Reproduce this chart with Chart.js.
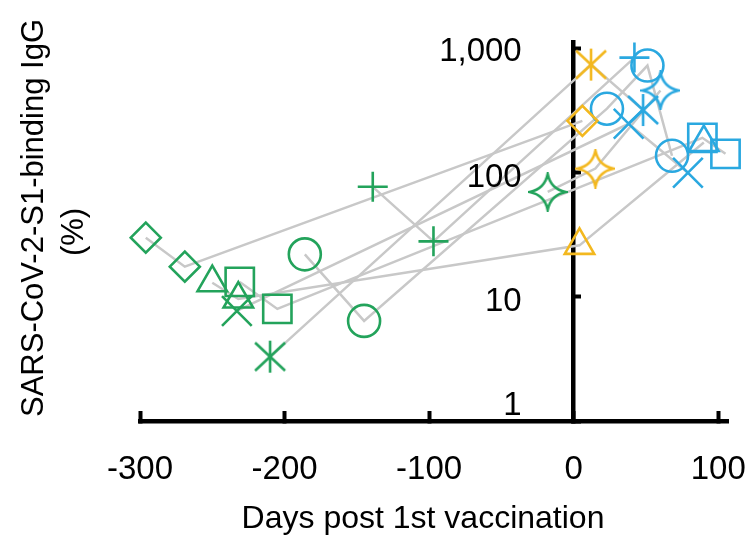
<!DOCTYPE html>
<html>
<head>
<meta charset="utf-8">
<script src="https://cdn.jsdelivr.net/npm/chart.js@4.4.0/dist/chart.umd.min.js"></script>
<style>
  html, body { margin: 0; padding: 0; background: #fff; }
  #wrap { width: 752px; height: 544px; }
</style>
</head>
<body>
<div id="wrap"><canvas id="chart"></canvas></div>
<script>
// Days post 1st vaccination and IgG (%) per patient
const diamondDays = [-296, -269, 6];
const diamondIgG = [30, 17.5, 262];

const triangleDays = [-250, -232, 4, 90];
const triangleIgG = [13, 9.6, 26, 175];

const squareDays = [-231, -205, 89, 105];
const squareIgG = [13.2, 8.0, 191, 142];

const circleDays = [-186, -145, 23, 51, 68];
const circleIgG = [22, 6.4, 328, 730, 137];

const plusDays = [-139, -97, 42];
const plusIgG = [77, 28, 846];

const starDays = [-18, 15, 60];
const starIgG = [70, 108, 460];

const asteriskDays = [-210, 12, 48];
const asteriskIgG = [3.3, 743, 320];

const crossDays = [-233, 38, 79];
const crossIgG = [7.7, 248, 100];

const xTicks = [-300, -200, -100, 0, 100];
const yTicks = [1, 10, 100, 1000];
const yTickLabels = ['1', '10', '100', '1,000'];

const green = '#23a35b';
const yellow = '#f3b81f';
const blue = '#2aa8e0';
const grey = '#c8c8c8';
const FONT = '"Liberation Sans", Arial, Helvetica, sans-serif';

// pre-vaccination green, after 1st dose yellow, after 2nd dose blue
function phaseColor(day) {
    if (day < 0) return green;
    if (day < 20) return yellow;
    return blue;
}

function asteriskIcon(color) {
    const c = document.createElement('canvas');
    c.width = 36; c.height = 36;
    const g = c.getContext('2d');
    g.strokeStyle = color;
    g.lineWidth = 2.6;
    g.translate(18, 18);
    g.beginPath();
    g.moveTo(0, -16); g.lineTo(0, 16);
    g.moveTo(-15, -14); g.lineTo(15, 14);
    g.moveTo(15, -14); g.lineTo(-15, 14);
    g.stroke();
    return c;
}

function starIcon(color) {
    const c = document.createElement('canvas');
    c.width = 40; c.height = 40;
    const g = c.getContext('2d');
    g.strokeStyle = color;
    g.lineWidth = 2.6;
    g.translate(20, 20);
    const r = 18, k = 3;
    g.beginPath();
    g.moveTo(0, -r);
    g.quadraticCurveTo(k, -k, r, 0);
    g.quadraticCurveTo(k, k, 0, r);
    g.quadraticCurveTo(-k, k, -r, 0);
    g.quadraticCurveTo(-k, -k, 0, -r);
    g.closePath();
    g.stroke();
    return c;
}

const icons = {
    asterisk: { [green]: asteriskIcon(green), [yellow]: asteriskIcon(yellow), [blue]: asteriskIcon(blue) },
    star: { [green]: starIcon(green), [yellow]: starIcon(yellow), [blue]: starIcon(blue) }
};

const patients = [
    { days: diamondDays, igg: diamondIgG, style: 'rectRot', radius: 15 },
    { days: triangleDays, igg: triangleIgG, style: 'triangle', radius: 17 },
    { days: squareDays, igg: squareIgG, style: 'rect', radius: 20 },
    { days: circleDays, igg: circleIgG, style: 'circle', radius: 16 },
    { days: plusDays, igg: plusIgG, style: 'cross', radius: 15 },
    { days: starDays, igg: starIgG, style: 'star4', radius: 18 },
    { days: asteriskDays, igg: asteriskIgG, style: 'asterisk', radius: 16 },
    { days: crossDays, igg: crossIgG, style: 'crossRot', radius: 21 }
];

const datasets = [];
patients.forEach(p => {
    const pts = p.days.map((d, i) => ({ x: d, y: p.igg[i] }));
    const colors = p.days.map(phaseColor);
    let styles;
    if (p.style === 'asterisk') styles = colors.map(c => icons.asterisk[c]);
    else if (p.style === 'star4') styles = colors.map(c => icons.star[c]);
    else styles = p.style;

    // connecting line, drawn beneath all markers
    datasets.push({
        data: pts,
        showLine: true,
        borderColor: grey,
        borderWidth: 2.5,
        pointRadius: 0,
        clip: false,
        order: 2
    });
    datasets.push({
        data: pts,
        showLine: false,
        pointStyle: styles,
        pointRadius: p.radius,
        pointBorderWidth: 2.6,
        pointBorderColor: colors,
        pointBackgroundColor: 'rgba(0,0,0,0)',
        clip: false,
        order: 1
    });
});

const axisText = {
    id: 'axisText',
    afterDraw(chart) {
        const { ctx, scales: { x, y } } = chart;
        ctx.save();
        ctx.fillStyle = '#000';
        ctx.font = '33px ' + FONT;
        ctx.textAlign = 'right';
        ctx.textBaseline = 'middle';
        const right = x.getPixelForValue(0) - 52;
        yTicks.forEach((v, i) => {
            let py = y.getPixelForValue(v) + 5;
            if (i === 0) py -= 20;
            if (i === 3) py -= 2;
            ctx.fillText(yTickLabels[i], right, py);
        });

        ctx.textAlign = 'center';
        ctx.font = '32px ' + FONT;
        ctx.fillText('Days post 1st vaccination', 423, 519);

        ctx.translate(34, 218);
        ctx.rotate(-Math.PI / 2);
        ctx.font = '31px ' + FONT;
        ctx.fillText('SARS-CoV-2-S1-binding IgG', 0, 0);
        ctx.fillText('(%)', -14, 40);
        ctx.restore();
    }
};

new Chart(document.getElementById('chart'), {
    type: 'scatter',
    data: { datasets },
    options: {
        responsive: true,
        maintainAspectRatio: false,
        animation: false,
        layout: { padding: { left: 140, right: 17, top: 42, bottom: 0 } },
        plugins: { legend: { display: false }, tooltip: { enabled: false } },
        scales: {
            x: {
                type: 'linear',
                min: -300,
                max: 107,
                afterBuildTicks: s => { s.ticks = xTicks.map(v => ({ value: v })); },
                afterFit: s => { s.height = 123; s.paddingLeft = 0; s.paddingRight = 0; },
                ticks: {
                    color: '#000',
                    font: { family: FONT, size: 33 },
                    padding: 39,
                    maxRotation: 0,
                    autoSkip: false,
                    callback: v => String(v)
                },
                grid: { drawOnChartArea: false, tickLength: -10, tickWidth: 4, tickColor: '#000' },
                border: { color: '#000', width: 4.5 }
            },
            y: {
                type: 'logarithmic',
                min: 1,
                max: 1130,
                position: { x: 0 },
                z: 1,
                afterBuildTicks: s => { s.ticks = yTicks.map(v => ({ value: v })); },
                ticks: { display: false },
                grid: { drawOnChartArea: false, tickLength: -10, tickWidth: 4, tickColor: '#000' },
                border: { color: '#000', width: 4.5 }
            }
        }
    },
    plugins: [axisText]
});
</script>
</body>
</html>
